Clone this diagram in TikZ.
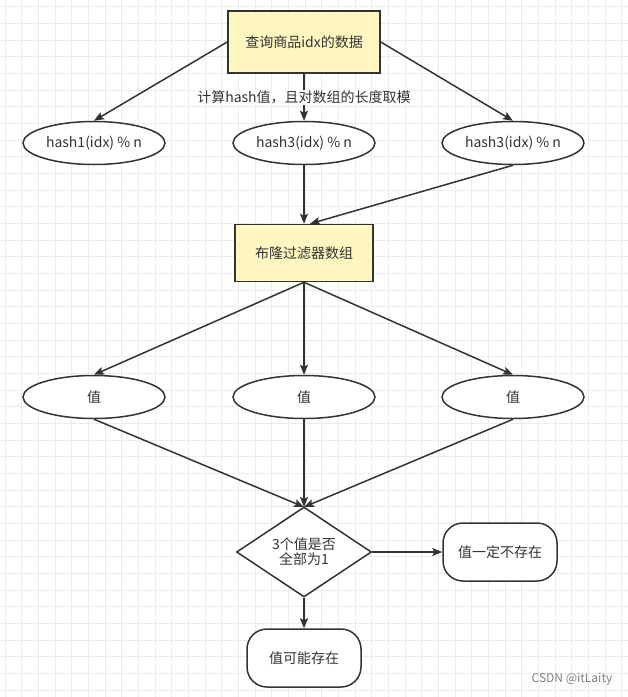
\documentclass[tikz,border=0pt]{standalone}
\usepackage{fontspec}
\setmainfont{Noto Sans CJK SC}
\usetikzlibrary{shapes.geometric,arrows.meta}
\definecolor{linegray}{HTML}{333333}
\definecolor{boxyellow}{HTML}{FFF6C0}
\definecolor{gridgray}{HTML}{ECECEC}

\begin{document}
\begin{tikzpicture}[x=1pt,y=-1pt,>={Stealth[length=10pt,width=8pt,inset=2pt]},
    every node/.style={font=\fontsize{14}{17}\selectfont,text=linegray},
    gridline/.style={draw=gridgray,line width=0.8pt},
    conn/.style={->,draw=linegray,line width=1.5pt},
    procbox/.style={draw=linegray,line width=1.5pt,fill=boxyellow,
      minimum width=152pt,minimum height=62pt},
    hashell/.style={ellipse,draw=linegray,line width=1.5pt,fill=white,
      minimum width=142pt,minimum height=43pt,inner sep=0pt},
    decide/.style={diamond,draw=linegray,line width=1.5pt,fill=white,align=center,
      minimum width=135pt,minimum height=90pt,inner sep=0pt,shape aspect=1.5},
    endbox/.style={draw=linegray,line width=1.5pt,fill=white,rounded corners=20pt,
      minimum width=114pt,minimum height=58pt}]
    \useasboundingbox (0,0) rectangle (628,697);
    % grid
    \foreach \gx in {0,...,37}{%
      \draw[gridline] ({5+16.67*\gx},0) -- ({5+16.67*\gx},697);}
    \foreach \gy in {0,...,41}{%
      \draw[gridline] (0,{6.7+16.67*\gy}) -- (628,{6.7+16.67*\gy});}
    % query
    \node[procbox] (query) at (304,42) {查询商品idx的数据};
    % hash functions
    \node[hashell] (hasha) at (94,143) {hash1(idx) \% n};
    \node[hashell] (hashb) at (304,143) {hash3(idx) \% n};
    \node[hashell] (hashc) at (513,143) {hash3(idx) \% n};
    \draw[conn] (query.west) -- (hasha.north);
    \draw[conn] (query.south) -- (hashb.north)
      node[midway,fill=white,inner sep=1pt] {计算hash值，且对数组的长度取模};
    \draw[conn] (query.east) -- (hashc.north);
    % bloom array
    \node[procbox,minimum width=138pt,minimum height=57pt] (bloom) at (304,253) {布隆过滤器数组};
    \draw[conn] (hashb.south) -- (bloom.north);
    \draw[conn] (hashc.south) -- ([xshift=6pt]bloom.north);
    % values
    \node[hashell] (vala) at (94,397) {值};
    \node[hashell] (valb) at (304,397) {值};
    \node[hashell] (valc) at (513,397) {值};
    \foreach \vv in {vala,valb,valc}{%
      \draw[conn] (bloom.south) -- (\vv.north);
      \draw[conn] (\vv.south) -- (304,507);}
    % check
    \node[decide] (check) at (304,552) {3个值是否\\[-2pt]全部为1};
    \node[endbox] (absent) at (500,552) {值一定不存在};
    \node[endbox] (maybe) at (304,658) {值可能存在};
    \draw[conn] (check.east) -- (absent.west);
    \draw[conn] (check.south) -- (maybe.north);
    % watermark
    \node[font=\fontsize{12}{14}\selectfont,text=gray] (mark) at (572,679) {CSDN @itLaity};
  \end{tikzpicture}
\end{document}
